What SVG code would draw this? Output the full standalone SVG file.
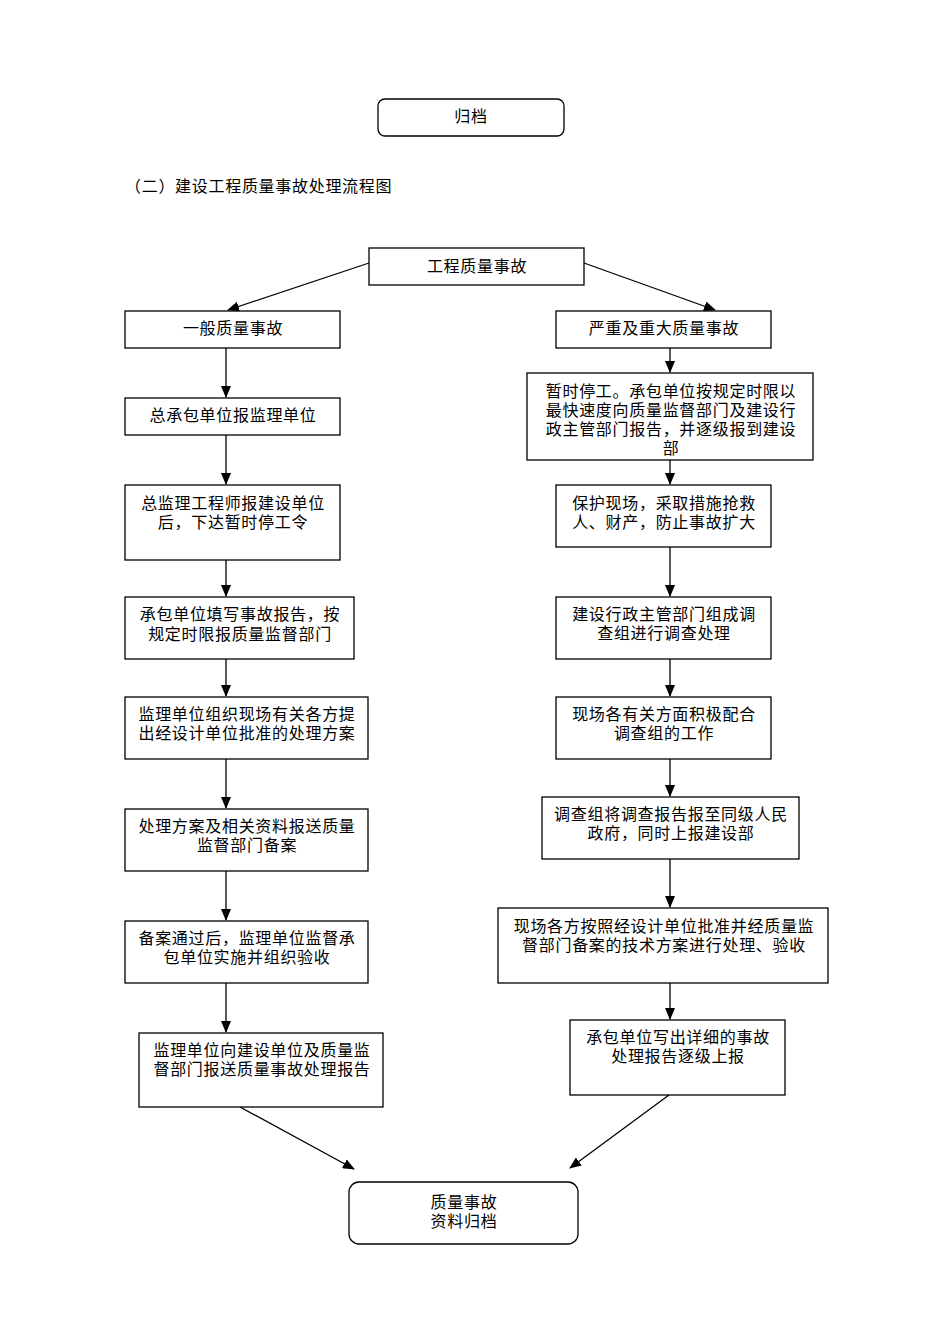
<svg xmlns="http://www.w3.org/2000/svg" width="950" height="1344" viewBox="0 0 950 1344">
<style>
rect{fill:#fff;stroke:#000;stroke-width:1.3}
text{font-family:"Liberation Serif","Noto Sans CJK SC",serif;font-size:16px;fill:#000;letter-spacing:0.7px}
.c{text-anchor:middle}
.ln line{stroke:#000;stroke-width:1.3;marker-end:url(#ah)}
</style>
<defs>
<marker id="ah" markerUnits="userSpaceOnUse" markerWidth="12" markerHeight="10" refX="11" refY="5" orient="auto">
<path d="M0,0 L12,5 L0,10 Z" fill="#000"/>
</marker>
</defs>
<rect width="950" height="1344" style="stroke:none"/>
<g id="archive-top"><rect x="378" y="99" width="186" height="37" rx="7"/><text class="c" x="471" y="122">归档</text></g>
<text x="125" y="192">（二）建设工程质量事故处理流程图</text>
<g id="n0"><rect x="369" y="248" width="215" height="37"/><text class="c" x="477" y="272">工程质量事故</text></g>
<g id="L1"><rect x="125" y="311" width="215" height="37"/><text class="c" x="233" y="334">一般质量事故</text></g>
<g id="R1"><rect x="556" y="311" width="215" height="37"/><text class="c" x="664" y="334">严重及重大质量事故</text></g>
<g id="L2"><rect x="125" y="398" width="215" height="37"/><text class="c" x="233" y="421">总承包单位报监理单位</text></g>
<g id="L3"><rect x="125" y="485" width="215" height="75"/><text class="c" x="233" y="509">总监理工程师报建设单位</text><text class="c" x="233" y="528">后，下达暂时停工令</text></g>
<g id="L4"><rect x="125" y="597" width="229" height="62"/><text class="c" x="240" y="620">承包单位填写事故报告，按</text><text class="c" x="240" y="640">规定时限报质量监督部门</text></g>
<g id="L5"><rect x="125" y="697" width="243" height="62"/><text class="c" x="247" y="720">监理单位组织现场有关各方提</text><text class="c" x="247" y="739">出经设计单位批准的处理方案</text></g>
<g id="L6"><rect x="125" y="809" width="243" height="62"/><text class="c" x="247" y="832">处理方案及相关资料报送质量</text><text class="c" x="247" y="851">监督部门备案</text></g>
<g id="L7"><rect x="125" y="921" width="243" height="62"/><text class="c" x="247" y="944">备案通过后，监理单位监督承</text><text class="c" x="247" y="963">包单位实施并组织验收</text></g>
<g id="L8"><rect x="139" y="1033" width="244" height="74"/><text class="c" x="262" y="1056">监理单位向建设单位及质量监</text><text class="c" x="262" y="1075">督部门报送质量事故处理报告</text></g>
<g id="R2"><rect x="527" y="373" width="286" height="87"/><text class="c" x="671" y="397">暂时停工。承包单位按规定时限以</text><text class="c" x="671" y="416">最快速度向质量监督部门及建设行</text><text class="c" x="671" y="435">政主管部门报告，并逐级报到建设</text><text class="c" x="671" y="454">部</text></g>
<g id="R3"><rect x="556" y="485" width="215" height="62"/><text class="c" x="664" y="509">保护现场，采取措施抢救</text><text class="c" x="664" y="528">人、财产，防止事故扩大</text></g>
<g id="R4"><rect x="556" y="597" width="215" height="62"/><text class="c" x="664" y="620">建设行政主管部门组成调</text><text class="c" x="664" y="639">查组进行调查处理</text></g>
<g id="R5"><rect x="556" y="697" width="215" height="62"/><text class="c" x="664" y="720">现场各有关方面积极配合</text><text class="c" x="664" y="739">调查组的工作</text></g>
<g id="R6"><rect x="542" y="797" width="257" height="62"/><text class="c" x="671" y="820">调查组将调查报告报至同级人民</text><text class="c" x="671" y="839">政府，同时上报建设部</text></g>
<g id="R7"><rect x="498" y="908" width="330" height="75"/><text class="c" x="664" y="932">现场各方按照经设计单位批准并经质量监</text><text class="c" x="664" y="951">督部门备案的技术方案进行处理、验收</text></g>
<g id="R8"><rect x="570" y="1020" width="215" height="75"/><text class="c" x="678" y="1043">承包单位写出详细的事故</text><text class="c" x="678" y="1062">处理报告逐级上报</text></g>
<g id="end"><rect x="349" y="1182" width="229" height="62" rx="10"/><text class="c" x="464" y="1208">质量事故</text><text class="c" x="464" y="1227">资料归档</text></g>
<g id="connectors" class="ln">
<line x1="369" y1="263" x2="228" y2="310"/>
<line x1="584" y1="263" x2="715" y2="310"/>
<line x1="226" y1="348" x2="226" y2="397"/>
<line x1="226" y1="435" x2="226" y2="484"/>
<line x1="226" y1="560" x2="226" y2="596"/>
<line x1="226" y1="659" x2="226" y2="696"/>
<line x1="226" y1="759" x2="226" y2="808"/>
<line x1="226" y1="871" x2="226" y2="920"/>
<line x1="226" y1="983" x2="226" y2="1032"/>
<line x1="670" y1="348" x2="670" y2="372"/>
<line x1="670" y1="460" x2="670" y2="484"/>
<line x1="670" y1="547" x2="670" y2="596"/>
<line x1="670" y1="659" x2="670" y2="696"/>
<line x1="670" y1="759" x2="670" y2="796"/>
<line x1="670" y1="859" x2="670" y2="907"/>
<line x1="670" y1="983" x2="670" y2="1019"/>
<line x1="240" y1="1107" x2="354" y2="1169"/>
<line x1="669" y1="1095" x2="570" y2="1168"/>
</g>
</svg>
